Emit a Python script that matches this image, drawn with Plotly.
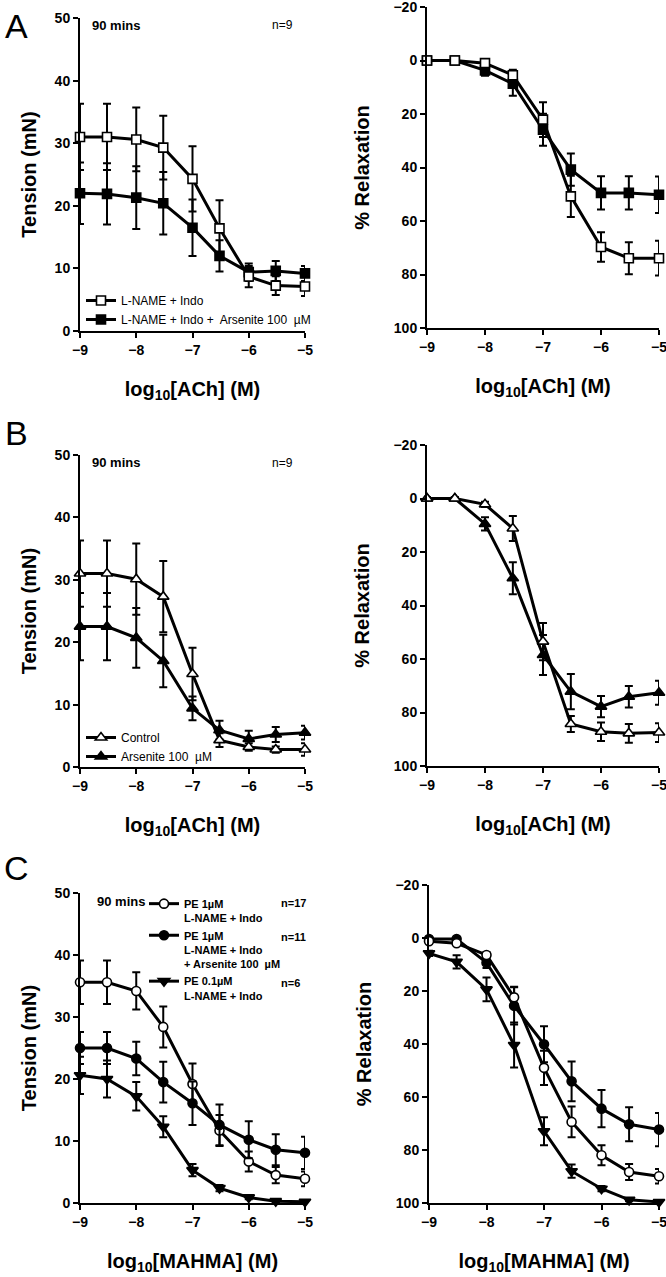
import plotly.graph_objects as go

# concentrations as log10 (1e-9, 3e-9, 1e-8 ...)
log_conc = [-9, -8.52, -8, -7.52, -7, -6.52, -6, -5.52, -5]

# panel A
A_tension_lname = [31.0, 31.0, 30.6, 29.3, 24.3, 16.4, 8.7, 7.25, 7.1]
A_tension_lname_err = [5.3, 5.3, 5.1, 5.1, 5.2, 4.5, 1.7, 1.5, 1.5]
A_tension_ars = [22.0, 21.9, 21.3, 20.4, 16.5, 12.0, 9.4, 9.6, 9.2]
A_tension_ars_err = [4.9, 4.9, 5.0, 5.0, 4.5, 2.5, 1.4, 1.6, 1.2]
A_relax_lname = [0, 0, 1, 5.5, 22.1, 50.8, 69.7, 73.9, 73.9]
A_relax_lname_err = [0.5, 0.5, 1, 2, 6.5, 7.7, 5.5, 6, 6.5]
A_relax_ars = [0, 0, 3.7, 8.7, 25.9, 40.8, 49.5, 49.5, 50.2]
A_relax_ars_err = [0.5, 0.5, 2, 4.5, 6, 6, 6.2, 6.2, 6.8]

# panel B
B_tension_ctrl = [31.0, 31.0, 30.1, 27.3, 14.9, 4.3, 3.2, 2.8, 2.8]
B_tension_ctrl_err = [5.3, 5.3, 5.7, 5.7, 4.2, 1.1, 0.6, 0.5, 1.0]
B_tension_ars = [22.5, 22.5, 20.7, 17.0, 9.4, 5.9, 4.5, 5.2, 5.5]
B_tension_ars_err = [5.4, 5.4, 4.8, 4.2, 1.9, 1.5, 1.3, 1.2, 1.1]
B_relax_ctrl = [0, 0, 2.2, 11.2, 53.5, 84.3, 87.2, 87.8, 87.5]
B_relax_ctrl_err = [0.5, 0.5, 1, 4.7, 7, 3, 3.5, 3.5, 3.5]
B_relax_ars = [0, 0, 9.5, 29.8, 58.5, 72.2, 77.8, 74.1, 72.6]
B_relax_ars_err = [0.5, 0.5, 2.5, 6, 7.5, 6.6, 4, 4, 4.5]

# panel C
C_tension_pe1 = [35.6, 35.6, 34.2, 28.4, 19.2, 11.7, 6.7, 4.5, 3.9]
C_tension_pe1_err = [3.5, 3.5, 3.0, 3.3, 3.3, 2.5, 1.6, 1.3, 1.2]
C_tension_ars = [25.0, 25.0, 23.3, 19.5, 16.1, 12.6, 10.2, 8.6, 8.1]
C_tension_ars_err = [2.6, 2.6, 2.7, 3.3, 3.5, 3.3, 3.0, 2.5, 2.6]
C_tension_pe01 = [20.6, 20.0, 17.2, 12.3, 5.3, 2.4, 0.9, 0.3, 0.2]
C_tension_pe01_err = [3.0, 3.0, 2.3, 1.7, 1.0, 0.5, 0.3, 0.2, 0.2]
C_relax_pe1 = [1.2, 2, 6.4, 22.4, 49, 69.4, 82, 88.3, 89.9]
C_relax_pe1_err = [0.5, 0.5, 1, 4, 6.5, 5.8, 3.8, 3, 2.7]
C_relax_ars = [0.4, 0.4, 9.3, 25.6, 40.1, 54.1, 64.4, 70.3, 72.3]
C_relax_ars_err = [0.5, 0.5, 2, 7, 6.8, 7.5, 7, 6.4, 6.3]
C_relax_pe01 = [5.8, 9, 19.4, 40.4, 72.9, 88, 94.6, 98.8, 99.6]
C_relax_pe01_err = [1, 2.5, 4.5, 8.5, 5.3, 2.5, 1, 0.5, 0.3]

tension_ticks = [0, 10, 20, 30, 40, 50]
relax_ticks = [-20, 0, 20, 40, 60, 80, 100]
x_ticks = [-9, -8, -7, -6, -5]

W, H = 666, 1277
FONT = "Liberation Sans, Arial, sans-serif"


def px(x):
    return x / W


def py(y):
    return 1 - y / H


def curve(x, y, err, symbol, fill, name, xa, ya, legend="legend", show=True):
    return go.Scatter(
        x=x, y=y, name=name, xaxis=xa, yaxis=ya, legend=legend, showlegend=show,
        mode="lines+markers", cliponaxis=False,
        line=dict(color="black", width=3),
        marker=dict(symbol=symbol, size=10 if "triangle" in symbol else 9,
                    color=fill, line=dict(color="black", width=1.6)),
        error_y=dict(type="data", array=err, color="black", thickness=2, width=4),
    )


fig = go.Figure()

# A
fig.add_trace(curve(log_conc, A_tension_ars, A_tension_ars_err, "square", "black",
                    "L-NAME + Indo +  Arsenite 100  µM", "x", "y", "legend"))
fig.add_trace(curve(log_conc, A_tension_lname, A_tension_lname_err, "square", "white",
                    "L-NAME + Indo", "x", "y", "legend"))
fig.add_trace(curve(log_conc, A_relax_ars, A_relax_ars_err, "square", "black",
                    "ars", "x2", "y2", show=False))
fig.add_trace(curve(log_conc, A_relax_lname, A_relax_lname_err, "square", "white",
                    "lname", "x2", "y2", show=False))

# B
fig.add_trace(curve(log_conc, B_tension_ars, B_tension_ars_err, "triangle-up", "black",
                    "Arsenite 100  µM", "x3", "y3", "legend2"))
fig.add_trace(curve(log_conc, B_tension_ctrl, B_tension_ctrl_err, "triangle-up", "white",
                    "Control", "x3", "y3", "legend2"))
fig.add_trace(curve(log_conc, B_relax_ars, B_relax_ars_err, "triangle-up", "black",
                    "ars", "x4", "y4", show=False))
fig.add_trace(curve(log_conc, B_relax_ctrl, B_relax_ctrl_err, "triangle-up", "white",
                    "ctrl", "x4", "y4", show=False))

# C
fig.add_trace(curve(log_conc, C_tension_pe1, C_tension_pe1_err, "circle", "white",
                    "PE 1µM<br>L-NAME + Indo", "x5", "y5", "legend3"))
fig.add_trace(curve(log_conc, C_tension_ars, C_tension_ars_err, "circle", "black",
                    "PE 1µM<br>L-NAME + Indo<br>+ Arsenite 100  µM", "x5", "y5", "legend3"))
fig.add_trace(curve(log_conc, C_tension_pe01, C_tension_pe01_err, "triangle-down", "black",
                    "PE 0.1µM<br>L-NAME + Indo", "x5", "y5", "legend3"))
fig.add_trace(curve(log_conc, C_relax_pe01, C_relax_pe01_err, "triangle-down", "black",
                    "pe01", "x6", "y6", show=False))
fig.add_trace(curve(log_conc, C_relax_ars, C_relax_ars_err, "circle", "black",
                    "ars", "x6", "y6", show=False))
fig.add_trace(curve(log_conc, C_relax_pe1, C_relax_pe1_err, "circle", "white",
                    "pe1", "x6", "y6", show=False))

tick_font = dict(family=FONT, size=14, color="black", weight="bold")
title_font = dict(family=FONT, size=20, color="black", weight="bold")


def xaxis(dom, anchor, title):
    return dict(domain=dom, anchor=anchor, range=[-9, -5], tickvals=x_ticks,
                automargin=False, ticklabeloverflow="allow",
                showline=True, linecolor="black", linewidth=2, ticks="outside",
                ticklen=5, tickwidth=2, tickcolor="black", showgrid=False, zeroline=False,
                tickfont=tick_font, title=dict(text=title, font=title_font, standoff=25))


def yaxis(dom, anchor, left):
    if left:
        rng, tv, title, so = [0, 50], tension_ticks, "Tension (mN)", 13
    else:
        rng, tv, title, so = [100, -20], relax_ticks, "% Relaxation", 18
    return dict(domain=dom, anchor=anchor, range=rng, tickvals=tv,
                automargin=False, ticklabeloverflow="allow",
                showline=True, linecolor="black", linewidth=2, ticks="outside",
                ticklen=5, tickwidth=2, tickcolor="black", showgrid=False, zeroline=False,
                tickfont=tick_font, title=dict(text=title, font=title_font, standoff=so))


xl = [px(80), px(305)]
xr = [px(427), px(659)]
ach = "log<sub>10</sub>[ACh] (M)"
mah = "log<sub>10</sub>[MAHMA] (M)"

fig.update_layout(
    xaxis=xaxis(xl, "y", ach), yaxis=yaxis([py(331), py(18)], "x", True),
    xaxis2=xaxis(xr, "y2", ach), yaxis2=yaxis([py(328), py(7)], "x2", False),
    xaxis3=xaxis(xl, "y3", ach), yaxis3=yaxis([py(767), py(455)], "x3", True),
    xaxis4=xaxis(xr, "y4", ach), yaxis4=yaxis([py(766), py(445)], "x4", False),
    xaxis5=xaxis(xl, "y5", mah), yaxis5=yaxis([py(1203), py(893)], "x5", True),
    xaxis6=xaxis([px(429), px(659)], "y6", mah), yaxis6=yaxis([py(1203), py(885)], "x6", False),
)

leg_font = dict(family=FONT, size=12, color="black")
fig.update_layout(
    legend=dict(x=px(81), y=py(286), xanchor="left", yanchor="top", font=leg_font,
                bgcolor="rgba(0,0,0,0)", traceorder="reversed", itemwidth=30),
    legend2=dict(x=px(81), y=py(723), xanchor="left", yanchor="top", font=leg_font,
                 bgcolor="rgba(0,0,0,0)", traceorder="reversed", itemwidth=30),
    legend3=dict(x=px(144), y=py(890), xanchor="left", yanchor="top",
                 font=dict(family=FONT, size=11, color="black", weight="bold"),
                 bgcolor="rgba(0,0,0,0)", valign="top", itemwidth=30),
)

ann = []


def note(x, y, text, size=12, bold=False, xanchor="left"):
    f = dict(family=FONT, size=size, color="black")
    if bold:
        f["weight"] = "bold"
    ann.append(dict(x=px(x), y=py(y), xref="paper", yref="paper", text=text,
                    showarrow=False, xanchor=xanchor, yanchor="middle", font=f))


for letter, y in [("A", 26), ("B", 433), ("C", 868)]:
    note(16, y, letter, size=34, xanchor="center")

note(90, 25, "90 mins", 13, True)
note(270, 25, "n=9")
note(90, 463, "90 mins", 13, True)
note(270, 463, "n=9")
note(95, 901, "90 mins", 13, True)
note(279, 903, "n=17", 11, True)
note(279, 937, "n=11", 11, True)
note(279, 983, "n=6", 11, True)

fig.update_layout(
    annotations=ann, width=W, height=H,
    margin=dict(l=0, r=0, t=0, b=0, pad=0, autoexpand=False),
    paper_bgcolor="white", plot_bgcolor="white",
    font=dict(family=FONT, color="black"),
)

# drop the browser's default 8px body margin so the figure fills the window
fig.write_html("out.html", config={"displayModeBar": False},
               post_script="document.body.style.margin = '0px';")
